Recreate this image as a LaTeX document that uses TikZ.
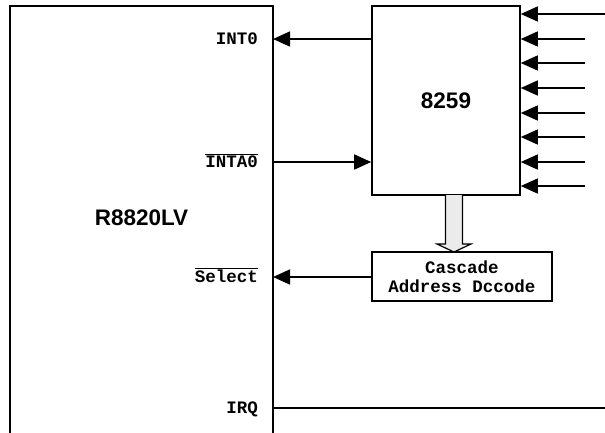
\documentclass[tikz,border=0pt]{standalone}
\usepackage{fontspec}
\setmainfont{Liberation Sans}
\newfontfamily\monob{Liberation Mono}[BoldFont={* Bold}]
\usetikzlibrary{arrows.meta}
\tikzset{
  boxline/.style={line width=1.6pt},
  sig/.style={line width=1.5pt},
  arr/.style={sig,-{Triangle[length=17pt,width=15pt]}},
  lbl/.style={anchor=base east,inner sep=0pt,font=\fontsize{17.5}{19}\selectfont\monob\bfseries},
  big/.style={font=\fontsize{22.5}{26}\selectfont\bfseries},
  chip/.style={draw,boxline,minimum width=148pt,minimum height=189pt,inner sep=0pt},
  casbox/.style={draw,boxline,minimum width=180pt,minimum height=49pt,inner sep=0pt,align=center,
    font=\fontsize{17.5}{19}\selectfont\monob\bfseries},
  hollow/.style={draw,line width=1.2pt,fill=black!8}
}
\begin{document}
\begin{tikzpicture}[x=1pt,y=-1pt]
\useasboundingbox (0,0) rectangle (605,432);
% left box (open at bottom)
\coordinate (lb) at (10,434);
\coordinate (lt) at (10,6);
\coordinate (rt) at (273,6);
\coordinate (rb) at (273,434);
\draw[boxline] (lb) -- (lt) -- (rt) -- (rb);
\node[big] (cpu) at (141.5,218) {R8820LV};
% 8259
\node[chip,big] (pic) at (446,100.5) {8259};
% cascade box
\node[casbox] (cas) at (462,276.5) {Cascade\\Address Dccode};
% labels
\node[lbl] (lint) at (258,44) {INT0};
\node[lbl] (linta) at (258,167) {$\overline{\hbox{INTA0}}$};
\node[lbl] (lsel) at (258,282) {$\overline{\hbox{Select}}$};
\node[lbl] (lirq) at (258,413) {IRQ};
% connectors
\coordinate (p1) at (273,39);
\draw[arr] (pic.west |- p1) -- (p1);
\coordinate (p2) at (273,162);
\draw[arr] (p2) -- (pic.west |- p2);
\coordinate (p3) at (273,277);
\draw[arr] (cas.west |- p3) -- (p3);
\coordinate (p4) at (273,408);
\coordinate (p4e) at (605,408);
\draw[sig] (p4) -- (p4e);
% inputs to 8259
\coordinate (in1) at (605,14);
\draw[arr] (in1) -- (in1 -| pic.east);
\foreach \i/\y in {2/39,3/63,4/88,5/113,6/137,7/162,8/186}{
  \coordinate (in\i) at (585,\y);
  \draw[arr] (in\i) -- (in\i -| pic.east);
}
% hollow arrow
\draw[hollow] (445.5,195) -- (445.5,244) -- (437,244) -- (454,252) -- (471,244) -- (462.5,244) -- (462.5,195);
\end{tikzpicture}
\end{document}
